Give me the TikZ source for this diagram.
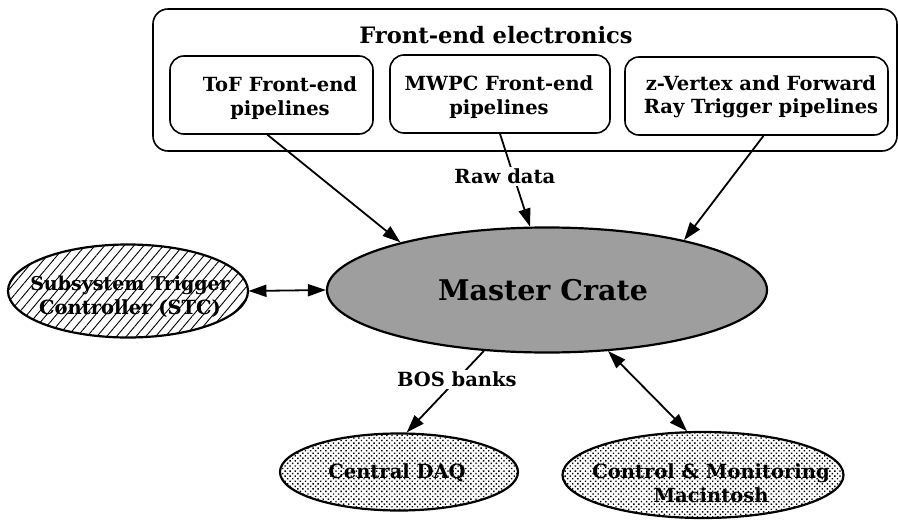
\documentclass[tikz,border=0pt]{standalone}
\usepackage{fontspec}
\setmainfont{DejaVu Serif}
\usetikzlibrary{shapes.geometric,arrows.meta,patterns.meta}

\tikzset{
  x=1pt, y=-1pt,
  every node/.style={font=\bfseries\fontsize{19.5}{23.5}\selectfont, align=center},
  groupbox/.style={draw, line width=1.6pt, rounded corners=15pt},
  pipebox/.style={draw, line width=1.6pt, rounded corners=14pt, inner sep=0pt},
  blob/.style={ellipse, draw, line width=2.2pt, inner sep=0pt},
  hatched/.style={pattern={Lines[angle=50,distance=7.5pt,line width=0.9pt]}},
  midgray/.style={fill=black!38},
  sparsedots/.style={pattern={Dots[distance=3.6pt,radius=1pt,angle=45]}},
  flow/.style={line width=1.8pt, -{Triangle[length=18pt,width=12pt]}},
  dflow/.style={line width=1.8pt, {Triangle[length=18pt,width=12pt]}-{Triangle[length=18pt,width=12pt]}},
  tag/.style={fill=white, inner sep=1.5pt}
}

\begin{document}
\begin{tikzpicture}
\useasboundingbox (0,0) rectangle (898,522);

% front-end electronics group
\node[groupbox, minimum width=744pt, minimum height=142pt] (fe) at (525,80) {};
\node (fetitle) at (496,35) {\fontsize{22.6}{27}\selectfont Front-end electronics};
\node[pipebox, minimum width=203pt, minimum height=78pt] (tof) at (271.5,95) {};
\node at (280,98) {ToF Front-end\\pipelines};
\node[pipebox, minimum width=220pt, minimum height=78pt] (mwpc) at (500,94) {};
\node at (499,97) {MWPC Front-end\\pipelines};
\node[pipebox, minimum width=263pt, minimum height=78pt] (zv) at (756.5,96) {};
\node at (761,97) {z-Vertex and Forward\\Ray Trigger pipelines};

% ellipses
\node[blob, midgray, minimum width=440pt, minimum height=125pt] (master) at (547,290) {};
\node at (543,290) {\fontsize{28.5}{32}\selectfont Master Crate};
\node[blob, hatched, minimum width=240pt, minimum height=93pt] (stc) at (128,291) {};
\node at (130,297) {\fontsize{19}{23}\selectfont Subsystem Trigger\\Controller (STC)};
\node[blob, sparsedots, minimum width=238pt, minimum height=77pt] (daq) at (399,472) {};
\node at (397,473) {Central DAQ};
\node[blob, sparsedots, minimum width=281pt, minimum height=86pt] (ctrl) at (703,475) {};
\node at (711,483) {Control \& Monitoring\\Macintosh};

% data flow
\draw[flow] ([xshift=-4pt]tof.south) -- (master.162);
\draw[flow] (mwpc.south) -- node[tag, pos=0.46, xshift=-9pt] (raw) {Raw data} (master.105);
\draw[flow] ([xshift=7pt]zv.south) -- (master.20.6);
\draw[dflow] (stc.east) -- (master.west);
\draw[flow] (master.224) -- node[tag, pos=0.35] (bos) {BOS banks} (daq.79);
\draw[dflow] (master.315) -- (ctrl.110);
\end{tikzpicture}
\end{document}
